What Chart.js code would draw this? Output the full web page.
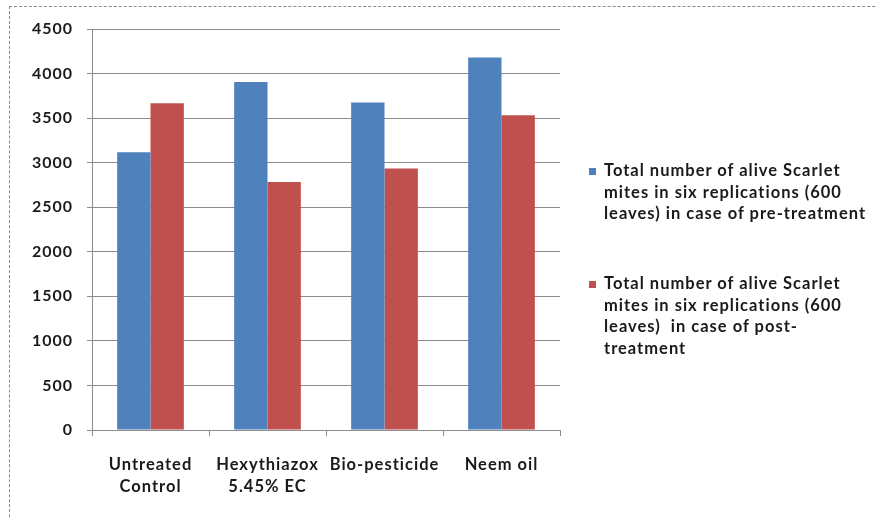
<!DOCTYPE html>
<html>
<head>
<meta charset="utf-8">
<script src="https://cdn.jsdelivr.net/npm/chart.js@4/dist/chart.umd.min.js"></script>
<style>
  html, body { margin: 0; padding: 0; background: #ffffff; }
  #wrap { position: relative; width: 877px; height: 517px; overflow: hidden; background: #fff; }
  #frame { position: absolute; left: 9px; top: 6px; width: 900px; height: 540px;
           border-top: 1px dashed #8a8a8a; border-left: 1px dashed #8a8a8a; }
  #chart { position: absolute; left: 0; top: 0; }
  .legend { position: absolute; left: 589px; top: 0; font-family: Lato, "Open Sans", sans-serif;
            font-weight: bold; font-size: 16.5px; line-height: 21.5px; color: #1a1a1a;
            letter-spacing: 1px; }
  .legend .item { position: absolute; padding-left: 15px; white-space: nowrap; }
  .legend .sw { position: absolute; left: 0; top: 8px; width: 7px; height: 7px; }
</style>
</head>
<body>
<div id="wrap">
  <div id="frame"></div>
  <canvas id="chart" width="877" height="517"></canvas>
  <div class="legend" id="legend"></div>
</div>
<script>
// Treatments on the category axis (each label is split over lines)
const categories = [
  ["Untreated", "Control"],
  ["Hexythiazox", "5.45% EC"],
  ["Bio-pesticide"],
  ["Neem oil"]
];

// Series names, split the way they wrap in the legend
const preTreatmentName = ["Total number of alive Scarlet", "mites in six replications (600", "leaves) in case of pre-treatment"];
const postTreatmentName = ["Total number of alive Scarlet", "mites in six replications (600", "leaves)  in case of post-", "treatment"];

// Live mite totals before and after treatment
const preTreatment = [3118, 3906, 3676, 4180];
const postTreatment = [3668, 2783, 2934, 3533];

// Value axis
const yMin = 0;
const yMax = 4500;
const yStep = 500;

const blue = "#4F81BD";
const red = "#C0504D";
const gridGrey = "#8c8c8c";
const textDark = "#1a1a1a";
const fontFamily = "Lato, 'Open Sans', sans-serif";

// Slightly widened lettering for all canvas text
const spacing = {
  id: "letterSpacing",
  beforeLayout(chart) { chart.ctx.letterSpacing = "1px"; },
  beforeDraw(chart) { chart.ctx.letterSpacing = "1px"; }
};

const ctx = document.getElementById("chart").getContext("2d");
ctx.letterSpacing = "1px";
const chart = new Chart(ctx, {
  type: "bar",
  data: {
    labels: categories,
    datasets: [
      { label: preTreatmentName.join(" "), data: preTreatment, backgroundColor: blue,
        categoryPercentage: 0.57, barPercentage: 1.0 },
      { label: postTreatmentName.join(" "), data: postTreatment, backgroundColor: red,
        categoryPercentage: 0.57, barPercentage: 1.0 }
    ]
  },
  plugins: [spacing],
  options: {
    responsive: false,
    animation: false,
    devicePixelRatio: 1,
    layout: { padding: { left: 0, right: 317, top: 29, bottom: 0 } },
    plugins: {
      legend: { display: false },
      tooltip: { enabled: false }
    },
    scales: {
      x: {
        grid: { display: true, drawOnChartArea: false, drawTicks: true, tickLength: 6,
                color: gridGrey, offset: true },
        border: { display: true, color: gridGrey, width: 1 },
        ticks: {
          color: textDark, padding: 17, maxRotation: 0, autoSkip: false,
          font: { family: fontFamily, weight: "bold", size: 16.5, lineHeight: 1.36 }
        },
        afterFit(scale) { scale.height = 87; }
      },
      y: {
        min: yMin, max: yMax,
        grid: { color: gridGrey, lineWidth: 1, drawTicks: true, tickLength: 5 },
        border: { display: true, color: gridGrey, width: 1 },
        ticks: {
          stepSize: yStep, color: textDark, padding: 14,
          callback: (v) => String(v),
          font: { family: fontFamily, weight: "bold", size: 16 }
        },
        afterFit(scale) { scale.width = 92; }
      }
    }
  }
});

// Legend to the right of the plot, built from the dataset names
const legendTops = [160, 273];
const legendNames = [preTreatmentName, postTreatmentName];
const legendColors = [blue, red];
const legendEl = document.getElementById("legend");
legendNames.forEach((lines, i) => {
  const item = document.createElement("div");
  item.className = "item";
  item.style.top = legendTops[i] + "px";
  const sw = document.createElement("span");
  sw.className = "sw";
  sw.style.background = legendColors[i];
  item.appendChild(sw);
  lines.forEach(line => {
    const d = document.createElement("div");
    d.textContent = line;
    d.style.whiteSpace = "pre";
    item.appendChild(d);
  });
  legendEl.appendChild(item);
});
</script>
</body>
</html>
